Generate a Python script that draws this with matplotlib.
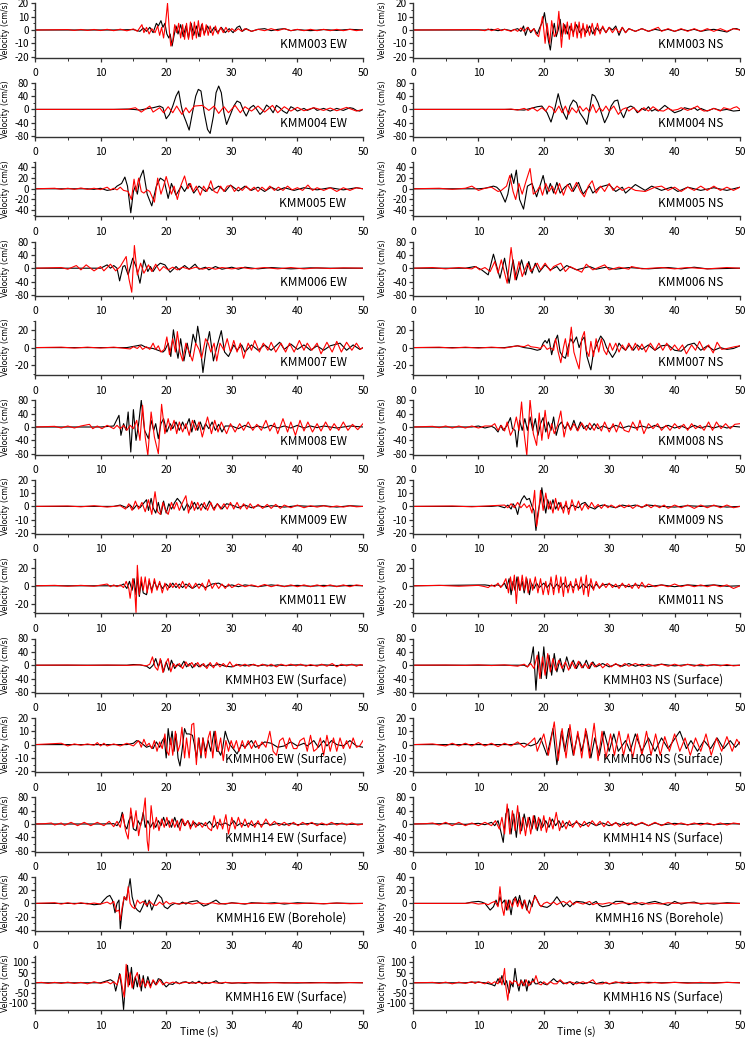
import matplotlib
matplotlib.use('Agg')
import matplotlib.pyplot as plt
from matplotlib.ticker import MultipleLocator

plt.rcParams['font.family'] = ['Noto Sans CJK JP', 'DejaVu Sans']
plt.rcParams['axes.unicode_minus'] = False

# ---------------- data: (time s, velocity cm/s) key points, black = observed, red = synthetic
k_003EW = [(0,0),(12,0),(15,0.3),(16,-1),(16.5,1.5),(17,-1),(17.5,2),(18,-2),(18.5,5),(18.8,3),(19.2,7),(19.5,2),(19.8,5),(20.1,-3),(20.4,-6),(20.6,-3),(20.9,-12),(21.2,-4),(21.5,3),(21.8,-3),(22.2,4),(22.6,-5),(23,3),(23.4,-6),(23.8,5),(24.2,-4),(24.6,3),(25,-5),(25.4,4),(25.8,-3),(26.3,3),(26.8,-2),(27.3,2),(27.8,-2),(28.4,2),(29,-2),(29.6,1),(30.2,-2),(30.8,2),(31.2,3),(31.6,-1),(32.2,1),(33,-1),(34,0.5),(35,1),(36,-0.5),(37,0.5),(38,1),(39,-0.5),(40,0.3),(42,-0.5),(44,0.3),(46,-0.3),(48,0.5),(50,0)]
r_003EW = [(0,0),(5,0.3),(6,-0.3),(7,0.4),(8,-0.3),(9,0.4),(10,-0.4),(11,0.5),(12,-0.5),(13,0.6),(14,-0.6),(15,0.8),(15.6,-1),(16.3,4),(16.6,-2),(17,2),(17.4,-3),(17.8,1),(18.3,-2),(18.7,3),(19,-4),(19.3,2),(19.6,-6),(19.9,5),(20.2,20),(20.5,-2),(20.7,-12),(21,-8),(21.3,4),(21.6,-2),(21.9,5),(22.2,-6),(22.5,4),(22.8,-7),(23.1,5),(23.4,-7),(23.7,6),(24,-7),(24.3,6),(24.6,-6),(24.9,7),(25.2,-5),(25.5,5),(25.8,-4),(26.1,4),(26.4,-4),(26.7,3),(27.1,-4),(27.5,3),(27.9,-3),(28.3,2),(28.7,-2),(29.1,2),(29.5,-1.5),(30,1),(30.5,-1),(31,1),(31.5,-1),(32,1),(33,-1),(34,0.5),(35,-0.5),(36,1),(37,-0.5),(38,1),(39,-0.5),(40,0.5),(41,-0.5),(42,0.5),(43,-0.5),(44,0.5),(45,-0.5),(46,0.5),(47,-0.5),(48,0.5),(49,-0.5),(50,0.3)]
k_003NS = [(0,0),(11,0),(12,0.5),(13,-0.5),(14,0.5),(15,-0.5),(16,1),(16.5,-1),(16.9,3),(17.2,-4),(17.6,2),(18,-2),(18.5,1),(19,-3),(19.4,2),(19.8,6),(20.1,13),(20.4,3),(20.7,-8),(21,-15),(21.3,-3),(21.6,5),(21.9,-5),(22.2,0),(22.5,8),(22.8,-5),(23.2,4),(23.6,-3),(24,3),(24.5,-2),(25,4),(25.5,-2),(26,2),(26.5,-2),(27,3),(27.5,-3),(28,2),(28.5,-1),(29,2),(29.5,-2),(30,2),(30.5,0),(31,3),(31.5,-4),(32,2),(32.5,-2),(33,1),(34,-1),(35,1),(36,-1),(37,0.5),(38,-0.5),(39,0.5),(40,-1),(41,0.5),(42,-0.5),(43,0.5),(44,-1),(45,0),(46,0.5),(47,-0.5),(48,-1.5),(49,1),(49.5,1),(50,0)]
r_003NS = [(0,0),(10,0.3),(11,-0.5),(11.5,0.8),(12,-0.5),(13,1),(13.5,-0.5),(14,0.5),(15,-1),(15.5,0.5),(16,-1),(16.5,1.5),(17,-1),(17.5,2),(18,-1),(18.5,1),(18.8,-3),(19.2,-5),(19.5,2),(19.8,10),(20.2,-10),(20.5,5),(20.9,-10),(21.2,7),(21.6,-5),(22,-2),(22.3,14),(22.7,-13),(23,5),(23.3,-3),(23.6,6),(23.9,-7),(24.2,5),(24.5,-5),(24.8,6),(25.1,-6),(25.4,6),(25.7,-6),(26,5),(26.3,-5),(26.6,4),(27,-4),(27.4,5),(27.8,-4),(28.2,5),(28.6,-3),(29,3),(29.5,-2),(30,2),(30.5,-2),(31,1.5),(31.5,-2),(32,2),(32.5,-2),(33,1),(34,-1),(35,1),(36,-1),(37,1),(37.5,2),(38,-1),(39,1),(40,-1),(41,1),(42,-1),(43,1),(44,-1),(45,1),(46,-1),(47,1),(48,-1),(49,1),(50,0)]

k_004EW = [(0,0),(12,0),(14,1),(15,0),(16,-2),(17,2),(18,5),(19,10),(19.5,5),(20,-28),(20.5,-15),(21,10),(21.5,40),(21.9,55),(22.3,10),(22.6,-15),(23,-35),(23.5,-62),(24,-10),(24.5,40),(24.9,60),(25.3,55),(25.8,-10),(26.3,-60),(26.7,-72),(27.2,-20),(27.6,50),(28,70),(28.4,50),(28.8,-10),(29.2,-45),(29.7,-20),(30.3,10),(30.8,25),(31.3,20),(31.8,-5),(32.2,-20),(32.8,5),(33.3,12),(33.8,0),(34.3,-15),(34.8,-5),(35.3,13),(35.8,5),(36.3,-10),(36.8,12),(37.3,5),(37.8,-5),(38.4,-12),(39,8),(39.5,3),(40,-5),(41,3),(41.5,-3),(42.5,5),(43,-3),(44,3),(45,-5),(46,3),(47,-3),(48,5),(48.5,3),(49,-3),(49.5,-5),(50,0)]
r_004EW = [(0,0),(14,0),(15.3,5),(16.2,-8),(17.5,10),(18,-8),(19,5),(19.6,-10),(20.3,8),(21,-10),(21.6,10),(22.4,-15),(23,5),(23.5,-10),(24.3,10),(25.5,12),(26.5,-3),(27.3,10),(28,-12),(28.8,8),(29.5,-10),(30.5,12),(31.3,-10),(32,8),(33,-5),(34,10),(35,-8),(36.2,12),(37,-10),(38,8),(39,-5),(40,6),(41,-4),(42.5,5),(44,-3),(45,4),(46,-4),(47.5,6),(49,-5),(50,0)]
k_004NS = [(0,0),(15,0),(17,-2),(18,3),(19,8),(19.7,10),(20.5,-10),(21.1,-38),(21.6,-5),(22.2,47),(22.6,15),(23,-10),(23.5,-30),(24,10),(24.5,28),(25,20),(25.5,-10),(26.2,-30),(26.6,-45),(27,0),(27.4,45),(27.8,40),(28.3,20),(28.8,-10),(29.3,-40),(29.8,-20),(30.3,10),(30.8,25),(31.3,28),(31.7,-5),(32.2,-25),(32.8,5),(33.3,10),(33.8,5),(34.3,-10),(35,3),(35.5,-3),(36,8),(36.5,-5),(37,0),(37.5,-5),(38.5,12),(39.3,0),(40,-10),(41,-3),(41.5,5),(42.5,0),(43,5),(43.5,-3),(44,3),(45,-5),(46,3),(47,-3),(48,0),(49,-5),(50,-3)]
r_004NS = [(0,0),(14,0),(15,1),(16,-2),(17,3),(17.6,-3),(18.3,5),(19,-5),(19.7,5),(20.3,-5),(20.8,10),(21.3,5),(21.7,-10),(22.3,10),(22.8,-10),(23.3,10),(23.8,-15),(24.3,5),(25,-10),(25.5,10),(26,-5),(26.5,5),(27,-8),(27.5,15),(28,-10),(28.5,5),(29,-5),(29.5,10),(30,-5),(30.7,10),(31.4,-15),(32,0),(32.6,5),(33,-5),(33.7,5),(34.5,-8),(35.3,5),(36,-5),(36.7,8),(37.5,-3),(38.3,-5),(39,3),(39.7,-3),(40.5,0),(41,5),(42,-3),(43,5),(43.5,10),(44,0),(44.5,-5),(45.2,-3),(46,3),(47,-5),(47.5,5),(48.5,0),(49,5),(49.5,8),(50,0)]

k_005EW = [(0,0),(8,0),(9,-1),(10,1),(11,-3),(12,-1),(12.5,5),(13.2,10),(13.7,22),(14.1,5),(14.6,-45),(15,-5),(15.3,5),(15.6,-10),(16,20),(16.5,35),(17.1,-10),(17.8,-32),(18.5,5),(19.1,20),(19.7,15),(20.3,-18),(20.8,10),(21.5,-12),(22.3,5),(22.8,-5),(23.5,10),(24.2,-8),(25,5),(26,-5),(26.6,3),(27,-3),(28,5),(29,-5),(29.8,7),(31,-4),(32,5),(33,-3),(34,3),(35,-5),(36,3),(37,-3),(38,2),(39.5,-3),(41,2),(43,-2),(45,2),(47,-2),(49,2),(50,0)]
r_005EW = [(0,0),(3,1),(4,-1),(5,1),(6,-1),(7,1.5),(8,-1),(9,1),(10,-1.5),(11,3),(11.5,-2),(12,1),(12.5,-2),(13,3),(13.5,-3),(14.2,-5),(14.7,-20),(15.1,18),(15.4,-5),(15.8,20),(16.2,-5),(16.6,-8),(17.1,-2),(17.5,-5),(18.2,-25),(18.7,20),(19.2,-10),(19.6,5),(20,23),(20.4,5),(20.8,-10),(21.2,5),(21.7,-20),(22.2,5),(22.8,24),(23.3,0),(23.7,10),(24.1,-5),(24.6,5),(25.2,-12),(25.7,5),(26.2,-5),(26.8,15),(27.3,-5),(27.8,-8),(28.3,5),(28.8,-5),(29.3,5),(29.9,6),(30.4,-5),(31,3),(31.6,-3),(32.2,5),(32.8,-3),(33.4,3),(34,-5),(34.6,3),(35.2,-3),(35.8,5),(36.5,-3),(37.1,3),(37.8,-3),(38.5,5),(39.2,-2),(40,2),(40.8,-3),(41.6,7),(42.3,-3),(43,2),(44,-3),(45,2),(46,-5),(47,2),(48,-3),(49,2),(50,0)]
k_005NS = [(0,0),(10,0),(11,1),(12.3,5),(12.8,3),(13.3,-3),(14.1,-25),(14.5,-10),(15.05,28),(15.4,10),(15.8,35),(16.3,-20),(16.9,-38),(17.5,5),(18.2,10),(18.9,-15),(19.4,5),(19.9,25),(20.5,-10),(21,10),(21.5,-8),(22,12),(22.5,-8),(23.2,3),(24,10),(24.5,-5),(25.3,12),(26,-10),(27,5),(27.5,-8),(28.5,3),(30,8),(31,-5),(32,3),(32.5,-8),(34,8),(35.5,-3),(36.5,5),(38,-3),(39.5,3),(40.5,-5),(42,3),(44,-3),(46,2),(48,-3),(50,3)]
r_005NS = [(0,0),(4,1),(6,-1),(8,1),(9,5),(10,-3),(11,1),(12,3),(13,-5),(13.5,-3),(14.3,5),(14.8,25),(15.3,-5),(15.7,-20),(16.2,10),(16.7,-10),(17.3,15),(17.9,38),(18.4,-10),(18.9,-5),(19.4,5),(19.8,-12),(20.3,10),(20.8,-5),(21.3,5),(21.8,-10),(22.4,10),(23,-12),(23.6,8),(24.3,-5),(25,12),(25.6,-5),(26.2,-15),(26.8,5),(27.4,15),(28,-8),(28.7,5),(29.3,-5),(30,10),(30.6,-3),(31.2,5),(32,-3),(33,3),(34,-3),(35.5,-5),(37,3),(38,5),(39,-3),(40,3),(41,-5),(42,3),(43,-3),(44,5),(45,-3),(46,5),(47,-3),(48,3),(49,-3),(50,3)]

k_006EW = [(0,0),(10,0),(11,10),(11.5,0),(12,8),(12.5,0),(12.9,-38),(13.4,5),(13.7,8),(14.2,-20),(14.9,30),(15.4,5),(16,-45),(16.6,25),(17.2,-10),(17.6,5),(18,-10),(18.5,5),(19.1,15),(19.8,10),(20.6,-12),(21.5,5),(22,-5),(22.8,8),(23.5,-3),(24.4,12),(25,-3),(26,3),(26.5,-5),(27.5,5),(28.5,-3),(30,3),(31,-3),(32,3),(34,-2),(36,2),(39,-2),(42,1),(45,0),(50,0)]
r_006EW = [(0,0),(4,2),(5,-3),(6.3,8),(7,-5),(7.8,10),(9,-8),(10,5),(10.5,-8),(11.5,12),(12.3,-8),(13,5),(13.9,35),(14.3,-30),(14.75,-72),(15.15,68),(15.6,-20),(16.1,15),(16.6,-15),(17.3,10),(17.8,-10),(18.4,12),(19,-8),(19.6,5),(20.3,-5),(21,3),(21.7,-5),(22.5,3),(23.5,-3),(24.5,3),(25.5,-3),(26.5,2),(27.5,-3),(28.5,2),(30,-2),(31.5,2),(33,-2),(35,2),(37,-2),(39,2),(41,-2),(43,1),(45,-1),(47,1),(50,0)]
k_006NS = [(0,0),(8,0),(9.5,5),(10.5,-5),(11.5,-20),(12.3,42),(13.3,-30),(14,30),(14.7,-45),(15.3,25),(15.8,-35),(16.6,25),(17.2,-20),(17.7,20),(18.2,-15),(18.7,15),(19.3,-12),(20.2,10),(21,-5),(22,5),(22.5,-8),(23.5,8),(25,-5),(27,5),(28,-3),(29.5,3),(31,-3),(33,2),(36,-2),(39,2),(41,-2),(43,3),(45,-2),(50,0)]
r_006NS = [(0,0),(3,2),(5,-2),(7,2),(9,-2),(9.6,5),(10.2,-5),(11,2),(11.8,-10),(12.5,20),(13,-15),(13.5,25),(14.4,-45),(15,62),(15.6,-35),(16.2,20),(16.7,-25),(17.5,15),(18,-10),(19,15),(19.5,-5),(20.2,15),(21,-8),(21.5,5),(22.6,15),(23.3,-10),(24,5),(25.8,-12),(26.5,12),(27.5,-5),(29.3,10),(30,-5),(31.5,3),(33,-3),(33.4,5),(35,-2),(38,2),(40,-2),(42,2),(45,-2),(48,2),(50,0)]

k_007EW = [(0,0),(14,0),(15.5,2),(16.2,3),(17,0),(18,-1),(19.5,-5),(19.8,-3),(20.3,5),(20.7,-10),(21.1,20),(21.5,0),(21.8,-12),(22.2,10),(22.7,-15),(23.2,5),(23.6,-10),(24.1,15),(24.5,5),(24.8,24),(25.1,10),(25.6,-28),(26.1,0),(26.6,18),(27.2,-15),(27.7,0),(28.4,19),(28.9,-5),(29.5,-10),(30.3,3),(30.8,-3),(31.5,3),(32,-5),(33,3),(34,-3),(35,3),(36,-3),(37.3,6),(38,-2),(39,4),(40,-2),(41,3),(42,-3),(43,2),(44,-3),(45,2),(46.5,5),(47.5,-3),(48.5,3),(49.5,-2),(50,0)]
r_007EW = [(0,0),(4,0.5),(6,-0.5),(8,0.5),(10,-0.5),(12,0.5),(14.5,-1.5),(15,1),(15.6,-1),(16,2),(16.4,-2),(17,1),(17.5,-2),(18,5),(18.4,-2),(18.8,2),(19.2,-5),(19.7,-2),(20.1,12),(20.5,-8),(21,10),(21.4,-5),(21.7,18),(22.1,-5),(22.5,-15),(23,5),(23.4,-3),(24,-15),(24.5,5),(25,-2),(25.4,-12),(26,10),(26.4,5),(26.8,-5),(27.3,5),(27.7,-15),(28.2,5),(28.8,-3),(29.3,10),(29.8,-5),(30.3,8),(30.8,-5),(31.3,5),(31.8,-12),(32.5,5),(33,-3),(33.5,8),(34.2,-5),(34.8,5),(35.5,-3),(36,6),(36.7,-5),(37.5,5),(38.2,-5),(38.8,5),(39.5,-5),(40.3,8),(41,-3),(41.5,5),(42.2,-3),(43,5),(43.6,-7),(44.5,6),(45.3,-5),(46,7),(46.7,-5),(47.5,6),(48.3,-3),(49,5),(49.6,-2),(50,0)]
k_007NS = [(0,0),(14,0),(15,1),(16,2),(17,0),(18,-1),(19,-3),(19.5,-2),(19.9,5),(20.2,8),(20.5,5),(20.8,10),(21.2,-8),(21.6,5),(22.1,14),(22.5,-5),(22.9,-10),(23.3,-12),(23.7,0),(24.1,10),(24.5,5),(25,12),(25.4,0),(25.8,8),(26.2,12),(26.6,-10),(27.2,-25),(27.6,-5),(28.2,5),(28.7,13),(29.2,8),(29.6,0),(30,-5),(30.5,-11),(31,-5),(31.5,5),(32,0),(32.5,-3),(33.1,3),(33.7,-3),(34.3,3),(35,-2),(36,3),(37,-3),(38,2),(39,3),(40,-3),(41,-4),(42,3),(43,5),(44,-3),(45,2),(46,-3),(47,0),(48,-2),(49,-1),(50,2)]
r_007NS = [(0,0),(4,0.5),(6,-0.5),(8,0.5),(10,-0.5),(12,0.5),(14,-0.5),(16,2),(17,1),(17.6,3),(18,1),(19,0),(19.5,-1),(20,3),(20.5,-2),(21,0),(21.5,-3),(21.8,10),(22.2,-5),(22.6,-17),(23,0),(23.3,10),(23.7,-10),(24.2,23),(24.6,-5),(25,-15),(25.4,-24),(25.8,10),(26.2,18),(26.5,-3),(26.9,-10),(27.2,7),(27.6,-10),(28,10),(28.4,-5),(28.8,10),(29.2,-3),(29.6,-8),(30.1,5),(30.5,-3),(31,5),(31.5,-5),(32,3),(32.5,-3),(33,5),(33.5,-3),(34,5),(34.5,-3),(35,4),(35.6,-5),(36.3,5),(37,-3),(37.6,5),(38.2,-3),(38.8,5),(39.4,-3),(40,3),(40.6,-3),(41.2,3),(41.8,-7),(42.6,3),(43.2,-3),(43.8,7),(44.5,-3),(45.2,3),(45.9,-6),(46.5,6),(47.2,-2),(48,-1),(48.6,0),(49.2,1),(50,2)]

k_008EW = [(0,0),(10,0),(12,3),(12.8,35),(13.1,-25),(13.5,10),(13.9,-10),(14.2,45),(14.6,-75),(15,52),(15.4,-40),(15.8,10),(16.2,80),(16.7,-10),(17.3,-35),(17.7,20),(18.1,-10),(18.4,10),(18.8,-35),(19.2,10),(19.6,25),(20.1,-15),(20.6,10),(21,-5),(21.5,15),(22,-10),(22.5,15),(22.9,-5),(23.5,25),(23.9,-15),(24.3,20),(24.8,-10),(25.2,15),(25.6,-8),(26,10),(26.5,-5),(27,15),(27.5,-10),(28,8),(28.5,-15),(29,3),(30,3),(31,-5),(32,5),(33,-3),(34,3),(35,-3),(36,5),(37,-3),(38,3),(39,-3),(40,5),(41,-3),(42,3),(43,-2),(44,3),(46,-3),(48,3),(50,0)]
r_008EW = [(0,0),(3,2),(4,-3),(5,3),(6,-3),(7,3),(8.3,8),(8.8,-5),(9.5,3),(10.2,-5),(11,5),(12,-5),(12.5,5),(13,-5),(13.5,5),(14,-10),(14.5,5),(15,-5),(15.5,20),(16,-40),(16.4,65),(16.8,-30),(17.2,-85),(17.7,45),(18.2,-30),(18.8,-80),(19.3,68),(19.8,-20),(20.3,25),(20.7,-10),(21.2,20),(21.6,-20),(22,15),(22.5,-15),(23,10),(23.5,-25),(24,20),(24.5,-10),(25,15),(25.5,-30),(26.3,30),(26.9,-20),(27.4,20),(27.9,-15),(28.4,15),(29.2,-20),(29.8,10),(30.5,-15),(31.2,10),(31.8,-10),(32.5,15),(33.2,-10),(33.8,8),(34.5,-10),(35.2,20),(35.8,-12),(36.5,12),(37,-20),(37.8,25),(38.5,-15),(39,15),(39.7,-25),(40.4,20),(41,-12),(41.6,15),(42.3,-15),(43,10),(43.6,-12),(44.3,15),(45,-10),(45.6,10),(46.3,-10),(47,15),(47.7,-10),(48.4,8),(49.2,-8),(50,10)]
k_008NS = [(0,0),(9,0),(10,3),(11,-3),(12,2),(12.5,-3),(13,-15),(13.4,5),(13.8,-10),(14.4,5),(14.9,28),(15.2,-5),(15.6,-10),(15.9,-60),(16.3,20),(16.7,-10),(17.1,25),(17.5,-10),(17.9,30),(18.3,-10),(18.7,25),(19.1,-25),(19.5,10),(19.9,28),(20.3,-15),(20.7,15),(21.1,-10),(21.5,30),(21.9,-25),(22.3,5),(22.7,15),(23.2,-5),(23.7,10),(24.1,-8),(24.6,20),(25.1,-10),(25.6,15),(26.1,-5),(26.6,5),(27.1,-8),(27.7,10),(28.3,-5),(29,3),(30,-5),(31,5),(32,-3),(33,3),(34,-3),(35,3),(36,-3),(37,5),(38,-3),(39,5),(40,-3),(41,3),(42,-5),(43,5),(44,-3),(45,3),(46,-3),(47,3),(48,-3),(49,2),(50,0)]
r_008NS = [(0,0),(3,2),(4,-2),(5,3),(6,-3),(7,3),(8,-3),(9,3),(10,-3),(11,3),(12,3),(12.5,10),(13,-10),(13.5,5),(14,-12),(14.4,15),(14.9,-25),(15.4,-5),(15.8,30),(16.2,-10),(16.6,75),(17,-20),(17.4,-85),(17.9,82),(18.4,-20),(18.9,-55),(19.3,42),(19.7,-40),(20.2,50),(20.7,-35),(21.2,10),(21.6,-20),(22.1,5),(22.6,48),(23.1,-30),(23.6,15),(24.1,-10),(24.6,10),(25.2,-12),(25.8,12),(26.5,-10),(27,12),(27.7,-10),(28.2,10),(28.8,-12),(29.3,15),(30,-15),(30.6,10),(31.1,-15),(31.7,15),(32.3,-10),(33,-15),(33.6,15),(34.3,-10),(34.7,20),(35.3,-20),(36,10),(36.7,-5),(37.4,10),(38,-10),(38.7,5),(39.3,-10),(40,10),(40.7,-5),(41.4,8),(42,-10),(42.6,10),(43.2,-5),(43.9,5),(44.5,-10),(45.2,15),(45.8,-10),(46.4,15),(47.1,-5),(47.8,10),(48.5,-5),(49.2,8),(50,10)]

k_009EW = [(0,0),(12,0),(13,1),(14,-1),(14.5,1),(15,-2),(15.5,1),(16,-1),(16.5,2),(17,5),(17.3,-3),(17.7,6),(18,-1),(18.4,-5),(18.8,3),(19.2,-6),(19.6,4),(20,-5),(20.4,2),(20.8,-2),(21.3,3),(21.7,6),(22.2,3),(22.7,-3),(23.2,2),(23.7,-2),(24.3,3),(24.8,-2),(25.4,2),(26,-2),(26.6,4),(27.2,-2),(27.8,2),(28.5,-2),(29.2,2),(30,1),(31,-1),(32,1),(33,-1),(34,0.5),(35,-0.5),(36,0.5),(38,-0.5),(40,0.5),(42,0),(44,0.5),(46,-0.5),(48,0.5),(50,0)]
r_009EW = [(0,0),(5,0.3),(7,-0.3),(9,0.5),(11,-0.5),(13,0.5),(13.8,-2),(14.3,2),(14.8,-3),(15.3,4),(15.8,-2),(16.3,3),(16.8,-4),(17.3,5),(17.8,-6),(18.3,11),(18.7,-4),(19.1,-6),(19.5,3),(19.9,-3),(20.3,-6),(20.8,3),(21.2,-2),(21.6,3),(22,-3),(22.5,3),(23,8),(23.4,-5),(23.9,4),(24.3,-3),(24.8,3),(25.3,-3),(25.8,3),(26.3,-3),(26.8,3),(27.3,-3),(27.8,2),(28.3,-2),(28.8,2),(29.3,-2),(29.8,3),(30.3,-2),(30.8,3),(31.3,-2),(31.8,2),(32.3,-2),(32.8,2),(33.3,-1.5),(34,1.5),(34.7,-1.5),(35.4,1.5),(36,-1.5),(36.7,1.5),(37.4,-1.5),(38,1),(39,-1),(40,1),(41,-1),(42,0.5),(43,-0.5),(44,0.5),(45,-0.5),(46,0.3),(47,-0.5),(48,0.5),(49,-0.3),(50,0)]
k_009NS = [(0,0),(12,0),(13,0.5),(14,-1),(14.5,1),(15,-2),(15.3,2),(15.7,-1),(16,-6),(16.3,1),(16.6,5),(17,8),(17.4,5),(17.8,6),(18.2,0),(18.5,-3),(18.8,-18),(19.1,-5),(19.5,5),(19.7,14),(20,3),(20.3,-5),(20.6,5),(21,-2),(21.4,5),(21.8,-2),(22.3,3),(22.8,-2),(23.3,1),(23.8,-2),(24.3,1),(24.8,0),(25.3,-1),(25.8,2),(26.3,3),(26.8,0),(27.3,-1),(27.8,-2),(28.3,0),(29,1),(30,0),(31,-1),(32,1),(33,0),(34,1),(35,-0.5),(36,1),(38,0),(40,-0.5),(42,0.5),(44,0),(46,0.5),(48,-0.5),(50,0)]
r_009NS = [(0,0),(6,0.3),(9,-0.3),(12,0.5),(14,1),(14.5,-1),(15,2),(15.5,-1),(16,3),(16.5,-1),(17,2),(17.4,-1),(17.8,1),(18.2,-5),(18.6,12),(18.9,-15),(19.2,-5),(19.5,12),(19.9,-3),(20.3,10),(20.7,-2),(21,4),(21.4,-5),(21.8,6),(22.2,-3),(22.6,3),(23,-5),(23.4,4),(23.8,-6),(24.3,5),(24.8,-3),(25.3,4),(25.8,-3),(26.3,2),(26.8,-2),(27.3,3),(27.8,-1),(28.3,1.5),(28.8,-1.5),(29.3,1.5),(29.8,-1),(30.3,1),(31,-1),(31.6,1),(32.3,-1),(33,1),(33.6,-1.5),(34.3,1),(35,-1),(35.7,1.5),(36.4,-1),(37,1),(37.7,-1),(38.4,1),(39,-1.5),(40,1),(41,-1),(42,1),(43,-1.5),(44,1),(45,-1),(46,1),(47,-1),(48,1),(49,-1),(50,0)]

k_011EW = [(0,0),(13,0),(13.5,2),(14,-3),(14.4,5),(14.8,-5),(15.1,8),(15.4,-10),(15.6,10),(15.9,-12),(16.2,5),(16.5,-8),(17,-10),(17.4,5),(17.8,-5),(18.2,5),(18.6,-3),(19,3),(19.4,-3),(20,2),(20.5,-2),(21,3),(21.5,-2),(22,2),(22.5,-2),(23,2),(24,-3),(25,2),(26,-2),(27,2),(28,3),(29,-1),(30,1),(31,-1),(32,1),(34,-1),(36,1),(38,-0.5),(40,0.5),(42,-0.5),(44,0.5),(46,-0.5),(48,0.5),(50,0)]
r_011EW = [(0,0),(3,0.5),(5,-0.5),(7,0.5),(9,-0.5),(11,2),(11.5,-1),(12,1),(12.5,-1),(13,1),(13.5,-2),(13.9,5),(14.3,-3),(14.5,-14),(14.9,8),(15.2,-5),(15.4,-30),(15.6,23),(15.9,-10),(16.2,10),(16.5,-5),(16.8,10),(17.1,-8),(17.4,8),(17.8,-8),(18.2,8),(18.6,-5),(19,5),(19.4,-8),(19.8,3),(20.2,-5),(20.6,3),(21,-2),(21.5,3),(22,-3),(22.5,5),(23,-3),(23.5,3),(24,-3),(24.5,3),(25,-3),(25.5,3),(26,-5),(26.5,7),(27,-3),(27.5,3),(28,-3),(28.5,2),(29,-3),(29.5,2),(30,-2),(31,2),(32,-1),(33,1),(34,-1),(35,1.5),(36,-1),(37,1),(38,-1),(39,1),(40,-1),(41,1),(42,-1),(43,1),(44,-1),(45,1),(46,-1),(47,1),(48,-1),(49,1),(50,0)]
k_011NS = [(0,0),(11,1),(12,0),(13,1),(13.5,-1),(14,3),(14.3,-3),(14.7,8),(15,-10),(15.3,5),(15.6,-5),(15.9,10),(16.3,-5),(16.7,5),(17,-8),(17.4,8),(17.8,-10),(18.1,3),(18.5,-3),(18.9,3),(19.3,-2),(20,3),(20.5,-2),(21,3),(21.5,-3),(22,2),(22.5,-2),(23,3),(23.5,-2),(24,2),(24.5,-2),(25,2),(25.5,-3),(26,2),(26.5,-2),(27,2),(27.5,-3),(28,2),(28.5,-2),(29,1),(30,2),(31,-1),(32,1),(33,-1),(34,1),(36,-1),(38,1),(40,-1),(42,1),(44,0),(46,1),(48,-0.5),(50,0)]
r_011NS = [(0,0),(4,0.5),(7,-0.5),(10,0.5),(11,-1),(11.5,-2),(12,1),(12.5,-1),(13,3),(13.4,-2),(13.8,2),(14.2,8),(14.6,-8),(14.9,10),(15.2,-5),(15.5,12),(15.8,-20),(16.1,10),(16.4,-5),(16.7,12),(17,-5),(17.3,10),(17.6,-8),(17.9,8),(18.3,-5),(18.7,10),(19.1,-8),(19.5,8),(19.9,-10),(20.3,5),(20.7,-10),(21.1,10),(21.5,-10),(21.9,12),(22.3,-8),(22.6,10),(23,-12),(23.3,10),(23.7,-8),(24.1,5),(24.5,-8),(24.9,8),(25.3,-5),(25.7,10),(26.1,-10),(26.5,12),(26.8,-12),(27.2,8),(27.6,-5),(28,5),(28.5,-3),(29,3),(29.5,-2),(30,3),(30.5,-2),(31,2),(31.5,-3),(32,3),(32.5,-2),(33,2),(33.5,-3),(34,3),(34.5,-3),(35,4),(35.5,-2),(36,2),(37,-1),(38,1),(39,-1),(40,2),(41,-1),(42,1),(43,-1),(44,1),(45,-1),(46,1),(47,-1),(48,1),(49,-3),(50,0)]

k_H03EW = [(0,0),(14,0),(15,2),(16,1),(16.5,-1),(17,-3),(17.5,-10),(18,0),(18.4,20),(18.8,-5),(19.2,15),(19.6,-20),(20,10),(20.4,-15),(20.8,15),(21.3,-10),(21.7,3),(22.2,-5),(22.7,12),(23.1,-5),(23.6,5),(24,-8),(24.5,5),(25,-5),(25.5,3),(26,-5),(26.5,3),(27,-3),(28,3),(29,-3),(30,-5),(31,2),(32,-2),(33,2),(34,-2),(35,1),(36,-2),(37,1),(38,-1),(40,1),(42,-1),(44,1),(46,-1),(48,1),(50,0)]
r_H03EW = [(0,0),(5,0.5),(8,-0.5),(11,0.5),(14,-0.5),(16,1),(17,-2),(17.5,3),(17.9,25),(18.3,-5),(18.7,-15),(19.1,20),(19.5,-22),(19.9,5),(20.3,20),(20.7,-20),(21.1,5),(21.5,-5),(22,5),(22.5,-10),(23,10),(23.4,-3),(23.9,8),(24.3,-5),(24.8,8),(25.2,-5),(25.7,5),(26.2,-10),(26.7,8),(27.2,-8),(27.7,8),(28.2,-5),(28.7,5),(29.2,-5),(29.7,10),(30.2,-5),(30.7,3),(31.3,-3),(32,3),(32.6,-3),(33.3,3),(34,-3),(34.7,3),(35.4,-3),(36,3),(36.8,-5),(37.5,3),(38.3,-2),(39,3),(39.8,-2),(40.5,3),(41.3,-3),(42,2),(43,-3),(43.7,3),(44.5,-3),(45.3,5),(46,-5),(46.7,3),(47.5,-2),(48.3,3),(49,-3),(49.6,2),(50,0)]
k_H03NS = [(0,0),(15,0),(17,0),(17.5,-5),(18,10),(18.4,55),(18.8,-75),(19.2,40),(19.6,-40),(20,55),(20.4,-40),(20.8,30),(21.2,-30),(21.6,35),(22,-20),(22.5,20),(23,-20),(23.5,25),(24,-10),(24.5,15),(25,-10),(25.5,10),(26,-8),(26.5,15),(27,-10),(27.5,10),(28,-5),(29,5),(30,-5),(31,3),(32,-3),(33,5),(34,-3),(35,3),(36,-3),(38,3),(40,-2),(42,2),(44,-2),(46,1),(48,-1),(50,0)]
r_H03NS = [(0,0),(5,0.5),(8,-0.5),(10,1),(12,-1),(14,1),(16,-3),(17,3),(17.5,-5),(18,5),(18.5,-10),(19,30),(19.4,-40),(19.8,25),(20.2,-30),(20.6,35),(21,-20),(21.4,20),(21.8,-15),(22.3,15),(22.8,-10),(23.3,10),(23.8,-15),(24.3,10),(24.8,-10),(25.3,12),(25.8,-8),(26.3,5),(26.8,-10),(27.3,8),(27.8,-5),(28.5,5),(29,-8),(29.7,5),(30.3,-5),(31,5),(31.7,-5),(32.4,5),(33,-3),(34,5),(35,-3),(36,3),(37,-3),(38,3),(39,-3),(40,3),(41,-3),(42,3),(43,-3),(44,3),(45,-2),(46,2),(47,-2),(48,2),(49,-2),(50,0)]

k_H06EW = [(0,0),(14,0),(15,1),(15.5,3),(16,2),(16.5,0),(17,-2),(17.5,-1),(18,-3),(18.5,2),(19,-2),(19.4,3),(19.7,5),(20,-10),(20.3,12),(20.6,0),(20.9,10),(21.2,-5),(21.5,8),(21.8,-10),(22.1,-16),(22.4,-5),(22.8,12),(23.1,8),(23.5,8),(24,7),(24.3,0),(24.6,-10),(25,5),(25.3,-10),(25.6,5),(26,-5),(26.4,3),(26.8,-5),(27.3,10),(27.7,-5),(28,-5),(28.3,-8),(28.6,-3),(29,10),(29.3,5),(29.7,0),(30.2,-3),(30.8,-7),(31.5,0),(32,-2),(33,3),(33.6,-2),(34.5,0),(35,2),(36,1),(37,-2),(38,-1),(39,2),(40,-1),(41,1),(41.5,-1),(42,1),(42.5,3),(43.2,-2),(44,3),(44.5,-1),(45.2,3),(46,0),(47,-1),(48,3),(49,-1),(50,-2)]
r_H06EW = [(0,0),(2,0.5),(4,1),(5,-1),(6,0.5),(7,-0.5),(8,0.5),(9,-0.5),(9.5,1.5),(10,-1),(10.5,1),(11,-1),(12,0.5),(13,-1),(14,1),(15,-1),(15.8,3),(16.2,-2),(16.6,4),(17,-1),(17.4,1),(17.8,-3),(18.2,3),(18.6,-5),(19,2),(19.4,-3),(19.8,8),(20.1,-5),(20.4,-8),(20.7,5),(21,-8),(21.4,10),(21.8,-5),(22.1,0),(22.4,13),(22.8,-10),(23.1,5),(23.5,-10),(23.9,15),(24.2,16),(24.6,-15),(24.9,5),(25.3,-8),(25.6,5),(26,-10),(26.4,5),(26.7,10),(27.1,-10),(27.5,10),(27.9,-5),(28.3,5),(28.7,-12),(29.1,3),(29.5,-5),(29.9,3),(30.3,-3),(30.7,3),(31.1,-5),(31.6,3),(32,-3),(32.5,3),(33,-3),(33.6,3),(34.1,-3),(34.6,2),(35.2,-2),(35.8,10),(36.3,-5),(36.8,-8),(37.3,3),(37.8,5),(38.3,-3),(38.8,5),(39.4,-3),(39.9,-3),(40.4,3),(41,5),(41.5,-5),(42,7),(42.5,-5),(43,-3),(43.5,5),(44,-8),(44.5,7),(45,-5),(45.5,5),(46,-5),(46.5,5),(47,-3),(47.5,3),(48,-3),(48.5,5),(49,-2),(49.5,-1),(50,3)]
k_H06NS = [(0,0),(15,0),(17,1),(18,-1),(19,1),(19.5,5),(20.5,-8),(21.4,12),(22,-15),(22.7,10),(23.2,-5),(23.8,12),(24.5,-8),(25.2,8),(25.8,-5),(26.5,10),(27.2,-10),(27.8,5),(28.5,-8),(29.2,10),(30,-5),(30.7,8),(31.4,-5),(32.5,3),(33.2,-5),(34,8),(35,-5),(36,5),(37,-5),(38,5),(39,-3),(40.8,10),(41.8,-3),(42.5,3),(43.5,-5),(44.5,3),(45.5,-3),(46.5,5),(47.5,-3),(48.5,3),(49.3,-2),(50,2)]
r_H06NS = [(0,0),(3,0.5),(5,-1),(6,1),(7,-1),(8,1),(9,-1),(10,1.5),(11,-1),(12,1),(13,-1.5),(14,1),(15,-1),(16,2),(17,-2),(18,2),(18.6,5),(19,-5),(20,8),(20.7,-8),(21.6,17),(22.2,-12),(22.8,12),(23.4,-10),(24,15),(24.6,-8),(25.2,10),(25.8,-10),(26.4,12),(27,-10),(27.7,16),(28.3,-12),(28.9,10),(29.5,-10),(30.2,8),(30.8,-8),(31.5,10),(32.2,-8),(32.9,8),(33.6,-10),(34.3,8),(35,-8),(35.7,10),(36.4,-8),(37.1,8),(37.8,-8),(38.5,6),(39.2,-5),(40,8),(40.8,-5),(41.6,5),(42.4,-8),(43.2,5),(44,-5),(44.8,8),(45.6,-8),(46.4,5),(47.2,-5),(48,6),(48.8,-5),(49.5,4),(50,0)]

k_H14EW = [(0,0),(10,0),(12,1),(12.5,-5),(13,10),(13.3,35),(13.7,-5),(14,-15),(14.3,10),(14.7,25),(15,-15),(15.4,-20),(15.7,10),(16.1,-5),(16.5,35),(16.8,-10),(17.2,10),(17.6,-10),(18,5),(18.4,-10),(18.8,10),(19.2,-5),(19.6,20),(20,-5),(20.4,10),(20.8,-10),(21.3,20),(21.8,-10),(22.3,15),(22.8,-5),(23.3,10),(23.8,-8),(24.3,5),(24.8,-5),(25.3,3),(26,-5),(26.6,8),(27.2,-10),(27.8,5),(28.3,-3),(29,3),(29.7,-5),(30.3,10),(30.8,-5),(31.4,3),(32,-5),(32.6,3),(33.2,-5),(33.8,3),(34.5,-3),(35.2,3),(36,-3),(37,2),(38,-3),(39,2),(40,-2),(42,2),(44,-2),(46,1),(48,-1),(50,0)]
r_H14EW = [(0,0),(1.5,1),(2.5,3),(3,-3),(4,3),(4.5,-4),(5.5,5),(6.5,-5),(7.5,5),(8.5,-5),(9.5,5),(10.5,-5),(11.3,8),(12,-8),(12.5,8),(13,-10),(13.4,30),(13.8,-20),(14.2,-45),(14.6,48),(15,-10),(15.4,40),(15.8,-35),(16.1,0),(16.4,15),(16.8,78),(17.1,-50),(17.3,-80),(17.7,55),(18.1,-15),(18.5,20),(18.9,-20),(19.3,15),(19.7,-10),(20.1,20),(20.5,-10),(20.9,15),(21.3,-10),(21.7,10),(22.1,-20),(22.5,15),(22.9,-5),(23.3,10),(23.7,-15),(24.1,10),(24.5,-10),(25,5),(25.5,-10),(26,5),(26.4,-12),(26.9,-20),(27.3,25),(27.8,-15),(28.2,15),(28.6,-15),(29.1,28),(29.5,-30),(30,20),(30.5,-15),(31,20),(31.5,-10),(32,15),(32.5,-10),(33,10),(33.5,-10),(34,10),(34.5,-10),(35.2,15),(35.8,-5),(36.5,8),(37.2,-5),(38,5),(38.7,-5),(39.4,5),(40.1,-5),(40.8,5),(41.5,-3),(42.2,5),(43,-5),(43.7,3),(44.5,-3),(45.2,5),(46,-3),(46.8,3),(47.5,-3),(48.3,3),(49.2,-3),(50,0)]
k_H14NS = [(0,0),(5,1),(8,-1),(10,2),(11,-2),(12,5),(12.5,-5),(13,10),(13.4,-20),(13.8,-55),(14.2,30),(14.6,45),(15,-30),(15.4,30),(15.8,-40),(16.2,35),(16.6,-20),(17,30),(17.4,-10),(17.8,20),(18.2,-15),(18.6,25),(19,-20),(19.4,15),(19.8,-10),(20.3,10),(20.8,-10),(21.3,15),(21.8,-5),(22.3,10),(22.8,-10),(23.5,5),(24,-5),(25,5),(26,-5),(27,5),(28,-5),(29,3),(30,-5),(31,3),(32,-3),(33,3),(34,-3),(35,3),(36,-5),(37,3),(38,-3),(40,2),(42,-2),(44,2),(46,-2),(48,1),(50,0)]
r_H14NS = [(0,0),(2,1),(3,3),(4,-3),(5,5),(6,-5),(7,5),(8,-5),(9,3),(10,-5),(11,5),(12,-5),(12.6,10),(13.2,-15),(13.6,20),(14,-30),(14.4,60),(14.8,-30),(15.2,40),(15.6,-20),(16,55),(16.4,-30),(16.8,20),(17.2,-35),(17.6,20),(18,-30),(18.4,25),(18.8,-15),(19.2,20),(19.6,-20),(20,25),(20.4,-25),(20.9,20),(21.4,-15),(21.9,35),(22.4,-20),(22.9,10),(23.4,-15),(23.9,10),(24.4,-10),(25,10),(25.6,-10),(26.2,8),(26.8,-8),(27.4,10),(28,-5),(28.6,8),(29.2,-8),(29.8,8),(30.4,-5),(31,5),(31.6,-8),(32.2,5),(32.8,-5),(33.4,5),(34,-5),(35,5),(36,-5),(37,5),(38,-5),(39,5),(40,-3),(41,3),(42,-3),(43,3),(44,-3),(45,3),(46,-3),(47,3),(48,-3),(49,3),(50,0)]

k_H16EWb = [(0,0),(8,0),(9,-2),(10,-1),(10.5,5),(11,10),(11.4,12),(11.8,5),(12.2,-14),(12.5,0),(12.8,5),(13,-38),(13.3,-10),(13.6,10),(13.9,5),(14.3,25),(14.5,37),(14.8,10),(15.2,-5),(15.6,-10),(16,-13),(16.4,-5),(16.8,5),(17.1,-5),(17.4,5),(17.8,-10),(18.2,0),(18.8,13),(19.3,8),(19.7,-5),(20.2,-8),(20.7,-3),(21.3,0),(22,-1),(22.5,2),(23,-1),(23.5,2),(24,3),(24.7,4),(25.2,0),(25.7,-4),(26.3,-2),(27,2),(27.6,5),(28.2,0),(29,-1),(30,1),(31,0),(32,-1),(33,1),(35,0),(36.5,1),(38,-1),(40,1),(42,0),(44,-0.5),(46,0.5),(48,0),(50,0)]
r_H16EWb = [(0,0),(3,1),(4,-1),(5,1),(6,-1),(7,1),(8,-1),(9,0.5),(10,-1),(11,2),(11.5,-1),(12,3),(12.4,-12),(12.8,-10),(13,-25),(13.3,-5),(13.6,10),(14,5),(14.2,25),(14.5,0),(14.8,-5),(15.2,-8),(15.6,5),(16,0),(16.5,3),(17,-3),(17.5,3),(18,-2),(18.5,-3),(19,2),(19.5,-2),(20,3),(20.5,-1),(21,1),(22,-1),(23,1),(24,-1),(25,1),(26,-1),(27,1),(28,-1),(30,0.5),(32,-0.5),(34,0.5),(36,-0.5),(38,0.5),(40,-0.5),(42,0.5),(44,-0.5),(46,0.5),(48,-0.5),(50,0)]
k_H16NSb = [(0,0),(8,0),(9,2),(10,3),(10.5,2),(11,0),(11.8,-10),(12.3,-5),(12.7,5),(13,-3),(13.3,10),(13.6,0),(14,5),(14.3,-10),(14.6,5),(15,-17),(15.3,5),(15.7,10),(16,0),(16.3,12),(16.7,-5),(17,5),(17.4,-10),(17.8,5),(18.2,-5),(18.6,12),(19,5),(19.4,-3),(20,-5),(20.5,-6),(21,-3),(21.5,3),(22,10),(22.5,3),(23,-5),(23.5,0),(24,-5),(24.5,0),(25,3),(26,2),(27,-2),(28,3),(28.5,-3),(29,-5),(30,-3),(31,3),(32,3),(33,-2),(34,2),(35,-2),(36,1),(37,3),(38,0),(39,-3),(40,3),(41,-1),(42,1),(43,2),(44,-1),(45,0),(46,-1),(47,0),(48,1),(50,0)]
r_H16NSb = [(0,0),(8,0),(9,1),(10,-1),(11,0),(11.5,-2),(12,1),(12.5,3),(13,-5),(13.3,25),(13.6,-5),(13.9,-18),(14.2,5),(14.5,-10),(14.8,5),(15.2,-5),(15.6,8),(16,-5),(16.3,5),(16.7,-8),(17.1,5),(17.5,-10),(17.8,-15),(18.2,0),(18.7,11),(19.2,0),(19.6,-5),(20,0),(20.5,2),(21,-1),(21.5,2),(22,-2),(22.5,1),(23,3),(23.5,0),(24,4),(24.5,-2),(25,2),(26,-1),(27,3),(27.5,-2),(28,0),(29,-1),(30,1),(31,-1),(32,1),(33,0),(34,-1),(35,1),(36,-1),(37,0),(38,-1),(39,1),(40,0),(42,1),(44,0),(46,0.5),(48,0),(50,0)]

k_H16EWs = [(0,0),(10,0),(11,10),(11.5,15),(12,5),(12.3,-40),(12.6,0),(12.9,45),(13.2,-20),(13.5,-130),(13.8,0),(14.1,85),(14.4,-10),(14.7,75),(15,-30),(15.3,30),(15.6,-20),(15.9,40),(16.2,-40),(16.5,35),(16.8,-25),(17.2,30),(17.6,-15),(18,10),(18.4,-10),(18.8,20),(19.2,15),(19.6,-5),(20,-20),(20.5,-5),(21,-8),(21.5,5),(22,-5),(22.5,3),(23,5),(23.5,-3),(24,5),(24.5,-3),(25,8),(25.5,-5),(26,3),(26.5,-3),(27,2),(27.6,10),(28,0),(28.5,-3),(29,2),(30,-2),(31,0),(32,-2),(33,1),(35,0),(37,1),(40,-1),(42,1),(45,0),(48,1),(50,0)]
r_H16EWs = [(0,0),(1,2),(2,-3),(3,2),(4,-3),(5,3),(6,-3),(7,2),(8,-5),(9,5),(10,-3),(11,5),(11.5,-5),(12,5),(12.5,-10),(13,40),(13.3,-20),(13.6,-70),(13.9,90),(14.2,-20),(14.5,50),(14.8,-25),(15.2,20),(15.6,50),(16,-20),(16.4,20),(16.8,-20),(17.2,10),(17.6,-25),(18,15),(18.5,-10),(19,15),(19.5,-10),(20,3),(20.5,-3),(21,3),(22,-3),(23,3),(24,-2),(25,2),(26,-3),(27,2),(28,-2),(29,2),(30,-1),(32,1),(34,-1),(36,1),(38,-1),(40,1),(42,-1),(44,1),(46,-1),(48,1),(50,0)]
k_H16NSs = [(0,0),(8,0),(9,3),(10,3),(11,0),(12,-8),(12.5,-15),(13,20),(13.3,0),(13.6,35),(14,-10),(14.3,10),(14.7,-50),(15,0),(15.3,-20),(15.6,70),(15.9,0),(16.2,-40),(16.5,15),(16.8,-15),(17.1,15),(17.4,-40),(17.7,10),(18,-10),(18.3,20),(18.7,-5),(19,-5),(19.5,5),(20,-5),(20.5,-10),(21,5),(21.5,20),(22,5),(22.5,10),(23,-5),(24,5),(24.5,-10),(25,5),(26,-5),(27,3),(28,-5),(28.5,0),(29,3),(30,-5),(31,0),(32,3),(33,-3),(34,0),(36,2),(38,0),(40,2),(42,0),(44,-1),(46,0),(48,2),(50,0)]
r_H16NSs = [(0,0),(2,1),(3,2),(4,-3),(5,3),(6,-5),(7,3),(8,-3),(9,5),(9.5,-3),(10,5),(11,-5),(11.5,5),(12,-5),(12.5,5),(13,-5),(13.3,25),(13.6,-10),(14,70),(14.2,-20),(14.5,-85),(14.8,10),(15.2,-5),(15.5,10),(15.8,5),(16.2,-15),(16.6,10),(17,-15),(17.3,15),(17.7,-15),(18.1,5),(18.5,5),(18.8,35),(19.2,-5),(19.6,-10),(20,5),(20.5,-8),(21,5),(21.5,-5),(22,-5),(22.5,15),(23,0),(23.5,-5),(24,5),(25,-5),(26,5),(26.5,-3),(27,5),(27.5,15),(28,-5),(29,-5),(29.5,3),(30,-5),(31,5),(32,-3),(33,3),(34,-3),(35,2),(36,-2),(37,2),(38,-2),(40,2),(42,-2),(44,2),(46,-2),(48,2),(50,0)]

labels_L = ['KMM003 EW','KMM004 EW','KMM005 EW','KMM006 EW','KMM007 EW','KMM008 EW','KMM009 EW',
            'KMM011 EW','KMMH03 EW (Surface)','KMMH06 EW (Surface)','KMMH14 EW (Surface)',
            'KMMH16 EW (Borehole)','KMMH16 EW (Surface)']
labels_R = ['KMM003 NS','KMM004 NS','KMM005 NS','KMM006 NS','KMM007 NS','KMM008 NS','KMM009 NS',
            'KMM011 NS','KMMH03 NS (Surface)','KMMH06 NS (Surface)','KMMH14 NS (Surface)',
            'KMMH16 NS (Borehole)','KMMH16 NS (Surface)']
black_L = [k_003EW,k_004EW,k_005EW,k_006EW,k_007EW,k_008EW,k_009EW,k_011EW,k_H03EW,k_H06EW,k_H14EW,k_H16EWb,k_H16EWs]
red_L = [r_003EW,r_004EW,r_005EW,r_006EW,r_007EW,r_008EW,r_009EW,r_011EW,r_H03EW,r_H06EW,r_H14EW,r_H16EWb,r_H16EWs]
black_R = [k_003NS,k_004NS,k_005NS,k_006NS,k_007NS,k_008NS,k_009NS,k_011NS,k_H03NS,k_H06NS,k_H14NS,k_H16NSb,k_H16NSs]
red_R = [r_003NS,r_004NS,r_005NS,r_006NS,r_007NS,r_008NS,r_009NS,r_011NS,r_H03NS,r_H06NS,r_H14NS,r_H16NSb,r_H16NSs]
y_half = [20, 80, 50, 80, 30, 80, 20, 30, 80, 20, 80, 40, 130]
y_step = [10, 40, 20, 40, 20, 40, 10, 20, 40, 10, 40, 20, 50]
x_ticks = [0, 10, 20, 30, 40, 50]

# ---------------- layout
W, H = 746, 1039
fig = plt.figure(figsize=(W / 100, H / 100), dpi=100)
pitch = 79.4
half_px = 26.7
cols = [(35, 363, 5.5), (413, 740, 382.5)]
spine_c = '#333333'

for i in range(13):
    y0 = 30 + pitch * i
    for j, (xl, xr, ylab_px) in enumerate(cols):
        ax = fig.add_axes([xl / W, 1 - (y0 + half_px + 0.8) / H, (xr - xl) / W, (2 * half_px + 0.8) / H])
        R = y_half[i]
        blk = black_L[i] if j == 0 else black_R[i]
        red = red_L[i] if j == 0 else red_R[i]
        ax.plot([p[0] for p in blk], [p[1] for p in blk], color='black', lw=0.8)
        ax.plot([p[0] for p in red], [p[1] for p in red], color='#ff0000', lw=0.8)
        ax.set_xlim(0, 50)
        ax.set_ylim(-R * 1.03, R)
        ax.set_xticks(x_ticks)
        ax.yaxis.set_major_locator(MultipleLocator(y_step[i]))
        ax.yaxis.set_minor_locator(MultipleLocator(y_step[i] / 2))
        ax.xaxis.set_minor_locator(MultipleLocator(5))
        for s in ['top', 'right']:
            ax.spines[s].set_visible(False)
        for s in ['left', 'bottom']:
            ax.spines[s].set_color(spine_c)
            ax.spines[s].set_linewidth(1.0)
        ax.tick_params(axis='both', which='major', direction='out', length=3, width=0.9,
                       color=spine_c, labelsize=7.5)
        ax.tick_params(axis='y', which='major', labelsize=7.2, pad=1.5)
        ax.tick_params(axis='both', which='minor', direction='out', length=1.8, width=0.7, color=spine_c)
        ax.tick_params(axis='x', which='major', pad=4.5)
        fig.text(ylab_px / W, 1 - y0 / H, 'Velocity (cm/s)', rotation=90, ha='center', va='center',
                 fontsize=5.6, family=['DejaVu Sans'])
        lab = labels_L[i] if j == 0 else labels_R[i]
        ax.text(0.95, 0.24, lab, transform=ax.transAxes, ha='right', va='center', fontsize=8.5)
        if i == 12:
            fig.text((xl + xr) / 2 / W, 1 - 1032 / H, 'Time (s)', ha='center', va='center', fontsize=7.5)

fig.savefig('out.png', dpi=100)
